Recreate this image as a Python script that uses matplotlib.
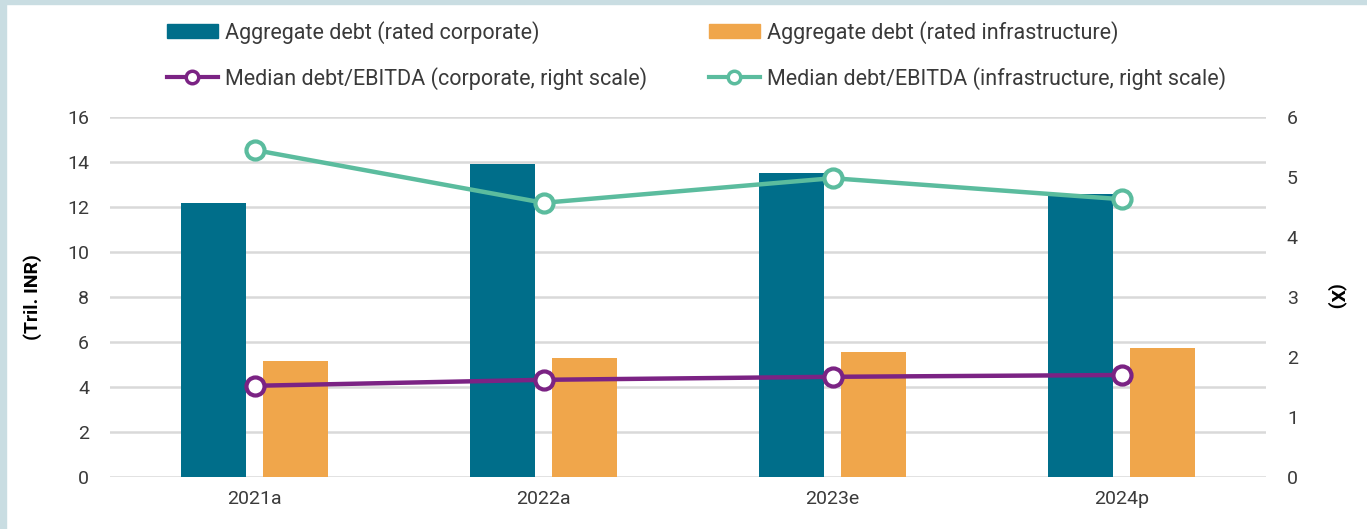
import matplotlib
matplotlib.use("Agg")
import matplotlib.pyplot as plt
from matplotlib.lines import Line2D
from matplotlib.patches import Patch, Rectangle
import numpy as np

plt.rcParams['font.family'] = ['Roboto', 'DejaVu Sans']

# Data
years = ['2021a', '2022a', '2023e', '2024p']
debt_corporate = [12.2, 13.9, 13.5, 12.6]
debt_infra = [5.15, 5.3, 5.55, 5.72]
ratio_corporate = [1.52, 1.62, 1.67, 1.70]
ratio_infra = [5.45, 4.57, 4.98, 4.63]

teal = '#006E8A'
orange = '#F0A64B'
purple = '#7B2384'
green = '#5BBC9E'
grid_col = '#D9D9D9'
text_col = '#3A3A3A'

fig = plt.figure(figsize=(13.67, 5.29), dpi=100)
fig.patch.set_facecolor('white')

# light frame on top and left
fig.patches.append(Rectangle((0, 1 - 4 / 529), 1, 4 / 529, transform=fig.transFigure,
                             color='#C9DDE2', zorder=0))
fig.patches.append(Rectangle((0, 0), 6 / 1367, 1, transform=fig.transFigure,
                             color='#C9DDE2', zorder=0))

ax = fig.add_axes([110 / 1367, 52 / 529, 1156 / 1367, 360 / 529])
ax2 = ax.twinx()

x = np.arange(len(years))
w = 0.225
ax.bar(x - 0.142, debt_corporate, w, color=teal, zorder=2)
ax.bar(x + 0.142, debt_infra, w, color=orange, zorder=2)

ax.set_xlim(-0.5, 3.5)
ax.set_ylim(0, 16)
ax.set_yticks(range(0, 17, 2))
ax.set_xticks(x)
ax.set_xticklabels(years)
ax.yaxis.grid(True, color=grid_col, linewidth=1.8, zorder=0)
ax.set_axisbelow(True)
for s in ax.spines.values():
    s.set_visible(False)
for s in ax2.spines.values():
    s.set_visible(False)
ax.tick_params(axis='both', length=0, labelsize=14, colors=text_col)
ax.tick_params(axis='y', pad=15)
ax.tick_params(axis='x', pad=9)
ax.set_ylabel('(Tril. INR)', fontsize=14, fontweight='bold', color='black', labelpad=18)

mk = dict(marker='o', markersize=13, markerfacecolor='white', markeredgewidth=3, linewidth=3.2)
ax2.plot(x, ratio_corporate, color=purple, markeredgecolor=purple, zorder=3, **mk)
ax2.plot(x, ratio_infra, color=green, markeredgecolor=green, zorder=3, **mk)
ax2.set_ylim(0, 6)
ax2.set_yticks(range(0, 7))
ax2.tick_params(axis='y', length=0, labelsize=14, colors=text_col, pad=15)
ax2.set_ylabel('(X)', fontsize=14, fontweight='bold', color='black', rotation=270, labelpad=34)

mk_leg = dict(marker='o', markersize=9, markerfacecolor='white', markeredgewidth=2.5, linewidth=3)
col1_handles = [Patch(color=teal), Line2D([], [], color=purple, markeredgecolor=purple, **mk_leg)]
col1_labels = ['Aggregate debt (rated corporate)',
               'Median debt/EBITDA (corporate, right scale)']
col2_handles = [Patch(color=orange), Line2D([], [], color=green, markeredgecolor=green, **mk_leg)]
col2_labels = ['Aggregate debt (rated infrastructure)',
               'Median debt/EBITDA (infrastructure, right scale)']

for hs, ls, x0 in [(col1_handles, col1_labels, 167), (col2_handles, col2_labels, 709)]:
    leg = fig.legend(hs, ls, loc='upper left', bbox_to_anchor=(x0 / 1367, 1 - 21 / 529),
                     frameon=False, fontsize=15.5, handlelength=2.35, handleheight=0.65,
                     handletextpad=0.33, labelspacing=1.05, borderaxespad=0, borderpad=0)
    for t in leg.get_texts():
        t.set_color(text_col)

fig.savefig('out.png', dpi=100)
